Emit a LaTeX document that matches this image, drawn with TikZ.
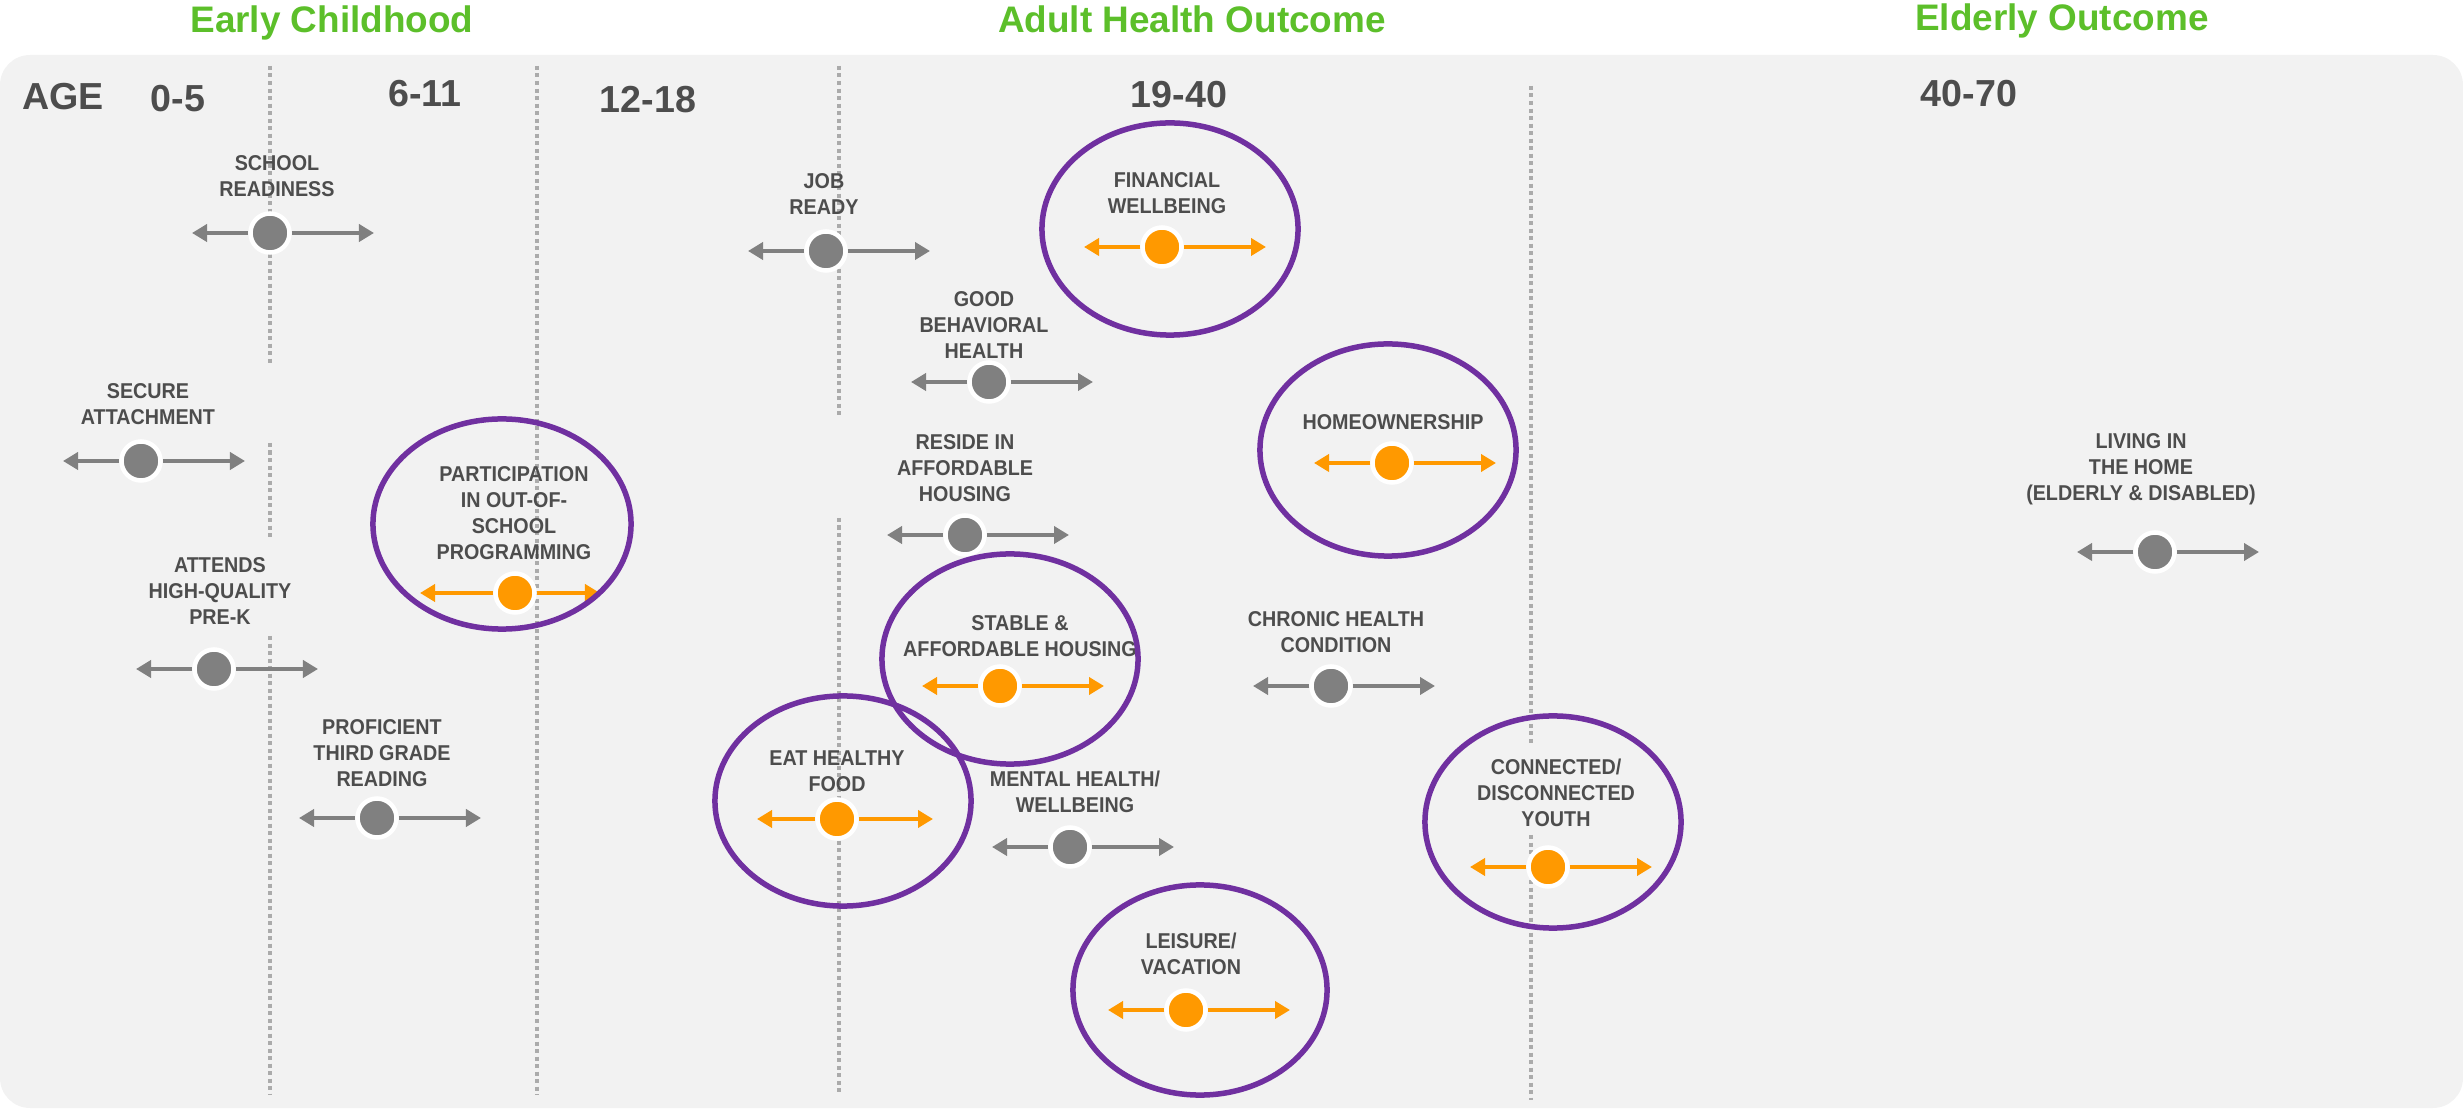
\documentclass[tikz,border=0pt]{standalone}
\usepackage{fontspec}
\setmainfont{Liberation Sans}
\newfontfamily\labelfont{Liberation Sans}[FakeStretch=0.92]
\usetikzlibrary{arrows.meta,calc,positioning}

\definecolor{panelgray}{HTML}{F2F2F2}
\definecolor{textgray}{HTML}{4D4D4D}
\definecolor{dotgray}{HTML}{808080}
\definecolor{dotorange}{HTML}{FF9900}
\definecolor{ringpurple}{HTML}{7030A0}
\definecolor{titlegreen}{HTML}{5CBF2A}
\definecolor{linegray}{HTML}{ABABAB}

\begin{document}
\begin{tikzpicture}[x=0.01cm,y=-0.01cm,
	title/.style={anchor=base,text=titlegreen,font=\bfseries\fontsize{10.5}{12}\selectfont},
	age/.style={anchor=base,text=textgray,font=\bfseries\fontsize{10.7}{12}\selectfont},
	outcome/.style={align=center,inner sep=0pt,text=textgray,font=\labelfont\bfseries\fontsize{6.1}{7.4}\selectfont},
	gdot/.style={circle,fill=dotgray,draw=white,line width=0.045cm,minimum size=0.39cm,inner sep=0pt},
	odot/.style={gdot,fill=dotorange},
	spread/.style={-{Triangle[length=0.15cm,width=0.17cm]},line width=0.038cm},
	ring/.style={draw=ringpurple,line width=0.055cm},
	divider/.style={draw=linegray,line width=0.04cm,dash pattern=on 0.04cm off 0.035cm}]

	\useasboundingbox (0,0) rectangle (2463,1113);
	\fill[panelgray,rounded corners=0.3cm] (0,55) rectangle (2463,1108);

	% stages and ages
	\node[title] (early) at (332,33) {Early Childhood};
	\node[title] (adult) at (1192,33) {Adult Health Outcome};
	\node[title] (elderly) at (2062,31) {Elderly Outcome};
	\node[age] (agehead) at (63,110) {AGE};
	\node[age] (a0) at (178,112) {0-5};
	\node[age] (a6) at (425,107) {6-11};
	\node[age] (a12) at (648,113) {12-18};
	\node[age] (a19) at (1179,108) {19-40};
	\node[age] (a40) at (1969,107) {40-70};

	% dividers
	\draw[divider] (270,66) -- (270,364) (270,443) -- (270,540) (270,636) -- (270,1095);
	\draw[divider] (537,66) -- (537,1095);
	\draw[divider] (839,66) -- (839,416) (839,518) -- (839,1095);
	\draw[divider] (1531,86) -- (1531,744) (1531,835) -- (1531,1100);

	% labels
	\node[outcome] (school-txt) at (277,176) {SCHOOL\\READINESS};
	\node[outcome] (job-txt) at (824,194) {JOB\\READY};
	\node[outcome] (fin-txt) at (1167,193) {FINANCIAL\\WELLBEING};
	\node[outcome] (behav-txt) at (984,325) {GOOD\\BEHAVIORAL\\HEALTH};
	\node[outcome] (home-txt) at (1393,422) {HOMEOWNERSHIP};
	\node[outcome] (reside-txt) at (965,468) {RESIDE IN\\AFFORDABLE\\HOUSING};
	\node[outcome] (secure-txt) at (148,404) {SECURE\\ATTACHMENT};
	\node[outcome] (ost-txt) at (514,513) {PARTICIPATION\\IN OUT-OF-\\SCHOOL\\PROGRAMMING};
	\node[outcome] (prek-txt) at (220,591) {ATTENDS\\HIGH-QUALITY\\PRE-K};
	\node[outcome] (read-txt) at (382,753) {PROFICIENT\\THIRD GRADE\\READING};
	\node[outcome] (stable-txt) at (1020,636) {STABLE \&\\AFFORDABLE HOUSING};
	\node[outcome] (chronic-txt) at (1336,632) {CHRONIC HEALTH\\CONDITION};
	\node[outcome] (food-txt) at (837,771) {EAT HEALTHY\\FOOD};
	\node[outcome] (mental-txt) at (1075,792) {MENTAL HEALTH/\\WELLBEING};
	\node[outcome] (leisure-txt) at (1191,954) {LEISURE/\\VACATION};
	\node[outcome] (youth-txt) at (1556,793) {CONNECTED/\\DISCONNECTED\\YOUTH};
	\node[outcome] (living-txt) at (2141,469) {LIVING IN\\THE HOME\\(ELDERLY \& DISABLED)};

	% markers
	\foreach \n/\x/\y/\s in {school/270/233/gdot,job/826/251/gdot,fin/1162/247/odot,
		behav/989/382/gdot,home/1392/463/odot,reside/965/535/gdot,secure/141/461/gdot,
		ost/515/593/odot,prek/214/669/gdot,read/377/818/gdot,stable/1000/686/odot,
		chronic/1331/686/gdot,food/837/819/odot,mental/1070/847/gdot,leisure/1186/1010/odot,
		youth/1548/867/odot,living/2155/552/gdot}
		\node[\s] (\n) at (\x,\y) {};

	\foreach \n/\l/\r/\c in {school/78/104/dotgray,job/78/104/dotgray,fin/78/104/dotorange,
		behav/78/104/dotgray,home/78/104/dotorange,reside/78/104/dotgray,secure/78/104/dotgray,
		ost/95/85/dotorange,prek/78/104/dotgray,read/78/104/dotgray,stable/78/104/dotorange,
		chronic/78/104/dotgray,food/80/96/dotorange,mental/78/104/dotgray,leisure/78/104/dotorange,
		youth/78/104/dotorange,living/78/104/dotgray}{
		\coordinate (\n-l) at ($(\n)+(-\l,0)$);
		\coordinate (\n-r) at ($(\n)+(\r,0)$);
		\draw[spread,draw=\c,fill=\c] (\n) edge (\n-l) (\n) edge (\n-r);
	}

	% highlighted outcomes
	\draw[ring] (1170,229) ellipse [x radius=1.28cm,y radius=1.06cm];
	\draw[ring] (1388,450) ellipse [x radius=1.28cm,y radius=1.06cm];
	\draw[ring] (502,524) ellipse [x radius=1.29cm,y radius=1.05cm];
	\draw[ring] (1010,659) ellipse [x radius=1.28cm,y radius=1.05cm];
	\draw[ring] (843,801) ellipse [x radius=1.28cm,y radius=1.05cm];
	\draw[ring] (1200,990) ellipse [x radius=1.27cm,y radius=1.05cm];
	\draw[ring] (1553,822) ellipse [x radius=1.28cm,y radius=1.06cm];
\end{tikzpicture}
\end{document}
